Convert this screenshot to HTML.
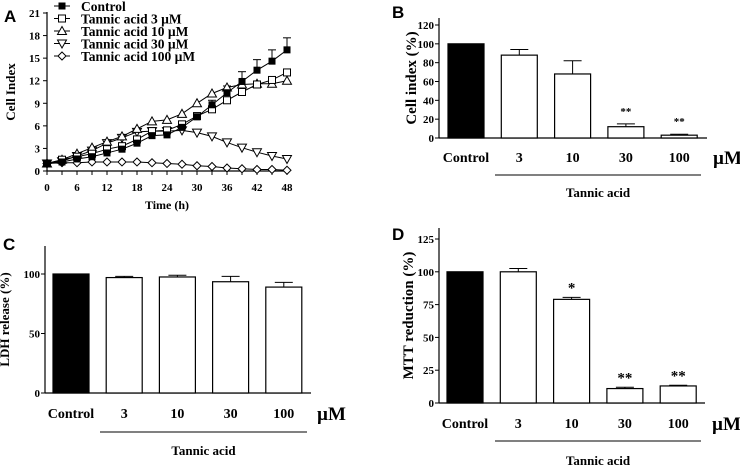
<!DOCTYPE html>
<html><head><meta charset="utf-8"><style>
body{margin:0;background:#fff}
svg{display:block;font-family:"Liberation Serif",serif;font-weight:bold}
.lbl{font-family:"Liberation Sans",sans-serif;font-weight:bold;font-size:17px}
</style></head><body>
<svg id="s" width="740" height="466" viewBox="0 0 740 466"></svg>
<script>
const timeH=[0,3,6,9,12,15,18,21,24,27,30,33,36,39,42,45,48];
const seriesNames=["Control","Tannic acid 3 \u00b5M","Tannic acid 10 \u00b5M","Tannic acid 30 \u00b5M","Tannic acid 100 \u00b5M"];
const ctrlVals=[1,1.2,1.6,1.9,2.4,2.9,3.7,4.7,4.8,5.8,7.2,8.8,10.4,11.9,13.4,14.6,16.1];
const ctrlErr=[0,0,0,0,0,0,0,0,0,0,0.5,0.6,0.9,1.3,1.4,1.5,1.6];
const ta3Vals=[1,1.5,1.9,2.3,2.9,3.3,4.2,5.3,5.4,6.2,7.3,8.2,9.4,10.5,11.5,12.1,13.1];
const ta10Vals=[1,1.5,2.3,3.1,3.9,4.6,5.6,6.6,6.8,7.6,9.0,10.3,11.1,11.5,11.6,11.6,12.0];
const ta30Vals=[1,1.3,2.0,2.7,3.7,4.4,5.2,5.3,5.3,5.4,5.1,4.6,3.8,3.1,2.5,2.0,1.6];
const ta100Vals=[1,1.1,1.1,1.2,1.2,1.2,1.2,1.1,1.0,0.9,0.7,0.6,0.4,0.3,0.2,0.2,0.1];
const xTicksA=[0,6,12,18,24,30,36,42,48];
const yTicksA=[0,3,6,9,12,15,18,21];
const barCats=["Control","3","10","30","100"];
const bVals=[100,88,68,12,3], bErr=[0,6,14,3,1], bSig=["","","","**","**"];
const cVals=[100,97,97.5,93.5,89], cErr=[0,1,1.5,4.5,4], cSig=["","","","",""];
const dVals=[100,100,79,11,13], dErr=[0,2.5,1.5,1,0.5], dSig=["","","*","**","**"];
const bTicks=[0,20,40,60,80,100,120], cTicks=[0,50,100], dTicks=[0,25,50,75,100,125];

const S=document.getElementById('s'),NS="http://www.w3.org/2000/svg";
function mk(t,a,p){const e=document.createElementNS(NS,t);for(const k in a)e.setAttribute(k,a[k]);(p||S).appendChild(e);return e;}
function tx(x,y,s,size,anchor,p){const e=mk('text',{x:x,y:y,'font-size':size,'text-anchor':anchor||'middle'},p);e.textContent=s;return e;}

// Panel A
const gA=mk('g',{});


const ax=v=>47+v*(240/48), ay=v=>171-v*(158/21);
mk('line',{x1:47,y1:171,x2:47,y2:12,stroke:'#000','stroke-width':1.2},gA);
mk('line',{x1:47,y1:171,x2:290,y2:171,stroke:'#000','stroke-width':1.2},gA);
yTicksA.forEach(v=>{mk('line',{x1:43,x2:47,y1:ay(v),y2:ay(v),stroke:'#000'},gA);tx(40,ay(v)+4,v,11,'end',gA);});
timeH.forEach(v=>mk('line',{x1:ax(v),x2:ax(v),y1:171,y2:175,stroke:'#000'},gA));
xTicksA.forEach(v=>tx(ax(v),191,v,11,'middle',gA));
const tA=tx(167,209,'Time (h)',12,'middle',gA);

const yA=tx(0,0,'Cell Index',13,'middle',gA);yA.setAttribute('transform','translate(15,92) rotate(-90)');

tx(4,22,'A',17,'start',gA).setAttribute('class','lbl');
function marker(kind,x,y,p){
 const s=3.5;
 if(kind==0)mk('rect',{x:x-s,y:y-s,width:2*s,height:2*s,fill:'#000'},p);
 else if(kind==1)mk('rect',{x:x-s,y:y-s,width:2*s,height:2*s,fill:'#fff',stroke:'#000'},p);
 else if(kind==2)mk('polygon',{points:`${x},${y-4.5} ${x+4.5},${y+3.5} ${x-4.5},${y+3.5}`,fill:'#fff',stroke:'#000'},p);
 else if(kind==3)mk('polygon',{points:`${x},${y+4.5} ${x+4.5},${y-3.5} ${x-4.5},${y-3.5}`,fill:'#fff',stroke:'#000'},p);
 else mk('polygon',{points:`${x},${y-4} ${x+4},${y} ${x},${y+4} ${x-4},${y}`,fill:'#fff',stroke:'#000'},p);
}
const allSeries=[ctrlVals,ta3Vals,ta10Vals,ta30Vals,ta100Vals];
ctrlVals.forEach((v,i)=>{if(ctrlErr[i]>0){const x=ax(timeH[i]);mk('line',{x1:x,x2:x,y1:ay(v),y2:ay(v+ctrlErr[i]),stroke:'#000'},gA);mk('line',{x1:x-4,x2:x+4,y1:ay(v+ctrlErr[i]),y2:ay(v+ctrlErr[i]),stroke:'#000'},gA);}});
[4,3,2,1,0].forEach(k=>{
 const d=allSeries[k];
 const pl=mk('polyline',{points:d.map((v,i)=>ax(timeH[i])+','+ay(v)).join(' '),fill:'none',stroke:'#000','stroke-width':1},gA);
 
 
 d.forEach((v,i)=>marker(k,ax(timeH[i]),ay(v),gA));
});
seriesNames.forEach((n,k)=>{
 const y=6+k*12.5;
 const lg=mk('g',{},gA);
 
 
 mk('line',{x1:54,x2:70,y1:y,y2:y,stroke:'#000'},lg);marker(k,62,y,lg);
 tx(81,y+5,n,13.5,'start',lg);
});

// Bar panels
function barPanel(o){
 const g=mk('g',{});
 
 
 const by=v=>o.y0-v*(o.y0-o.yTop)/o.max;
 mk('line',{x1:o.ax,y1:o.y0,x2:o.ax,y2:o.axTop,stroke:'#000','stroke-width':1.2},g);
 mk('line',{x1:o.ax,y1:o.y0,x2:o.xEnd,y2:o.y0,stroke:'#000','stroke-width':1.2},g);
 o.ticks.forEach(v=>{mk('line',{x1:o.ax-4,x2:o.ax,y1:by(v),y2:by(v),stroke:'#000'},g);tx(o.ax-5,by(v)+4,v,11,'end',g);});
 o.vals.forEach((v,i)=>{
  const x=o.x0+i*o.step, cx=x+o.w/2;
  if(o.err[i]>0){mk('line',{x1:cx,x2:cx,y1:by(v),y2:by(v+o.err[i]),stroke:'#000'},g);mk('line',{x1:cx-9,x2:cx+9,y1:by(v+o.err[i]),y2:by(v+o.err[i]),stroke:'#000'},g);}
  const r=mk('rect',{x:x,y:by(v),width:o.w,height:o.y0-by(v),fill:i==0?'#000':'#fff',stroke:'#000','stroke-width':1.2},g);
  
  
  if(o.sig[i])tx(cx,by(v+o.err[i])-o.sigOff,o.sig[i],o.sigSize,'middle',g);
  tx(cx,o.labY,barCats[i],14,'middle',g);
 });
 tx(o.muX,o.labY+2,'\u00b5M',19,'start',g);
 mk('line',{x1:o.lx1,x2:o.lx2,y1:o.lineY,y2:o.lineY,stroke:'#000'},g);
 tx((o.lx1+o.lx2)/2,o.taY,'Tannic acid',13,'middle',g);
 const yt=tx(0,0,o.ytitle,o.ytSize,'middle',g);yt.setAttribute('transform',`translate(${o.ytX},${(o.y0+o.axTop)/2}) rotate(-90)`);
 
 tx(o.lblX,o.lblY,o.letter,17,'start',g).setAttribute('class','lbl');
}
barPanel({name:'panel-b-bar-chart',ax:439,y0:138,yTop:25,max:120,axTop:18,xEnd:707,x0:448,step:53.3,w:36,vals:bVals,err:bErr,sig:bSig,ticks:bTicks,labY:162,muX:713,lx1:495,lx2:701,lineY:175,taY:197,ytitle:'Cell index (%)',ytSize:15,ytX:416,letter:'B',lblX:392,lblY:18,sigOff:9,sigSize:11});
barPanel({name:'panel-c-bar-chart',ax:45,y0:393,yTop:274,max:100,axTop:246,xEnd:311,x0:53,step:53.2,w:36,vals:cVals,err:cErr,sig:cSig,ticks:cTicks,labY:418,muX:317,lx1:100,lx2:307,lineY:432,taY:455,ytitle:'LDH release (%)',ytSize:13,ytX:9,letter:'C',lblX:3,lblY:250,sigOff:9,sigSize:11});
barPanel({name:'panel-d-bar-chart',ax:439,y0:403,yTop:239,max:125,axTop:228,xEnd:705,x0:447,step:53.3,w:36,vals:dVals,err:dErr,sig:dSig,ticks:dTicks,labY:428,muX:712,lx1:495,lx2:701,lineY:441,taY:465,ytitle:'MTT reduction (%)',ytSize:15,ytX:413,letter:'D',lblX:392,lblY:240,sigOff:5,sigSize:15});
</script>
</body></html>
